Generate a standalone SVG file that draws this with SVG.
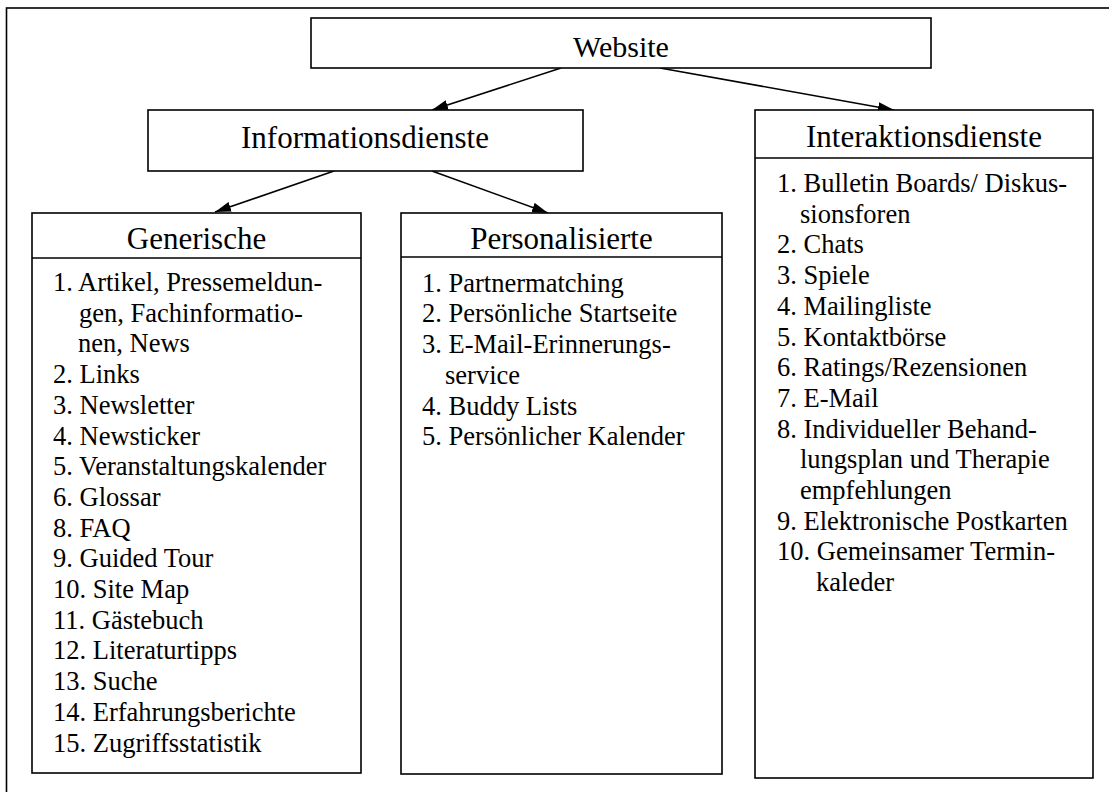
<svg xmlns="http://www.w3.org/2000/svg" width="1109" height="792" viewBox="0 0 1109 792">
<defs>
<marker id="ah" viewBox="0 0 16 10" refX="16" refY="5" markerWidth="16" markerHeight="10" markerUnits="userSpaceOnUse" orient="auto">
<path d="M0,0 L16,5 L0,10 Z" fill="#000"/>
</marker>
<style>
.box{fill:#fff;stroke:#000;stroke-width:1.6}
.ln{stroke:#000;stroke-width:1.6;fill:none}
.hd{font-family:"Liberation Serif","Times New Roman",serif;font-size:31px;text-anchor:middle;fill:#000}
.it{font-family:"Liberation Serif","Times New Roman",serif;font-size:26.5px;fill:#000}
.con{stroke:#000;stroke-width:1.6;fill:none;marker-end:url(#ah)}
</style>
</defs>
<rect x="0" y="0" width="1109" height="792" fill="#fff"/>
<rect x="6.5" y="8" width="1300" height="1000" class="ln"/>
<g id="connectors">
<line class="con" x1="561" y1="68" x2="432" y2="110"/>
<line class="con" x1="660" y1="68" x2="894" y2="110"/>
<line class="con" x1="334" y1="171" x2="215" y2="212"/>
<line class="con" x1="432" y1="171" x2="548" y2="213"/>
</g>
<g id="website">
<rect class="box" x="311" y="18" width="620" height="50"/>
<text class="hd" x="621" y="57" style="font-size:30px">Website</text>
</g>
<g id="informationsdienste">
<rect class="box" x="148" y="110" width="435" height="61"/>
<text class="hd" x="365" y="148">Informationsdienste</text>
</g>
<g id="interaktionsdienste">
<rect class="box" x="755" y="110" width="338" height="668"/>
<line class="ln" x1="755" y1="158" x2="1093" y2="158"/>
<text class="hd" x="924" y="147">Interaktionsdienste</text>
<text class="it" x="777" y="192">1. Bulletin Boards/ Diskus-</text>
<text class="it" x="800" y="222.7">sionsforen</text>
<text class="it" x="777" y="253.4">2. Chats</text>
<text class="it" x="777" y="284">3. Spiele</text>
<text class="it" x="777" y="314.8">4. Mailingliste</text>
<text class="it" x="777" y="345.5">5. Kontaktbörse</text>
<text class="it" x="777" y="376.2">6. Ratings/Rezensionen</text>
<text class="it" x="777" y="407">7. E-Mail</text>
<text class="it" x="777" y="437.6">8. Individueller Behand-</text>
<text class="it" x="800" y="468.3">lungsplan und Therapie</text>
<text class="it" x="800" y="499">empfehlungen</text>
<text class="it" x="777" y="529.7">9. Elektronische Postkarten</text>
<text class="it" x="777" y="560.4">10. Gemeinsamer Termin-</text>
<text class="it" x="816" y="591">kaleder</text>
</g>
<g id="generische">
<rect class="box" x="32" y="213" width="329" height="560"/>
<line class="ln" x1="32" y1="258" x2="361" y2="258"/>
<text class="hd" x="196.5" y="249">Generische</text>
<text class="it" x="53" y="291">1. Artikel, Pressemeldun-</text>
<text class="it" x="79" y="321.7">gen, Fachinformatio-</text>
<text class="it" x="78" y="352.4">nen, News</text>
<text class="it" x="53" y="383">2. Links</text>
<text class="it" x="53" y="413.8">3. Newsletter</text>
<text class="it" x="53" y="444.5">4. Newsticker</text>
<text class="it" x="53" y="475.2">5. Veranstaltungskalender</text>
<text class="it" x="53" y="506">6. Glossar</text>
<text class="it" x="53" y="536.6">8. FAQ</text>
<text class="it" x="53" y="567.3">9. Guided Tour</text>
<text class="it" x="53" y="598">10. Site Map</text>
<text class="it" x="53" y="628.7">11. Gästebuch</text>
<text class="it" x="53" y="659.4">12. Literaturtipps</text>
<text class="it" x="53" y="690">13. Suche</text>
<text class="it" x="53" y="720.8">14. Erfahrungsberichte</text>
<text class="it" x="53" y="751.5">15. Zugriffsstatistik</text>
</g>
<g id="personalisierte">
<rect class="box" x="401" y="213" width="321" height="561"/>
<line class="ln" x1="401" y1="257" x2="722" y2="257"/>
<text class="hd" x="561.5" y="249">Personalisierte</text>
<text class="it" x="422" y="291.7">1. Partnermatching</text>
<text class="it" x="422" y="322.4">2. Persönliche Startseite</text>
<text class="it" x="422" y="353">3. E-Mail-Erinnerungs-</text>
<text class="it" x="445" y="383.8">service</text>
<text class="it" x="422" y="414.5">4. Buddy Lists</text>
<text class="it" x="422" y="445.2">5. Persönlicher Kalender</text>
</g>
</svg>
